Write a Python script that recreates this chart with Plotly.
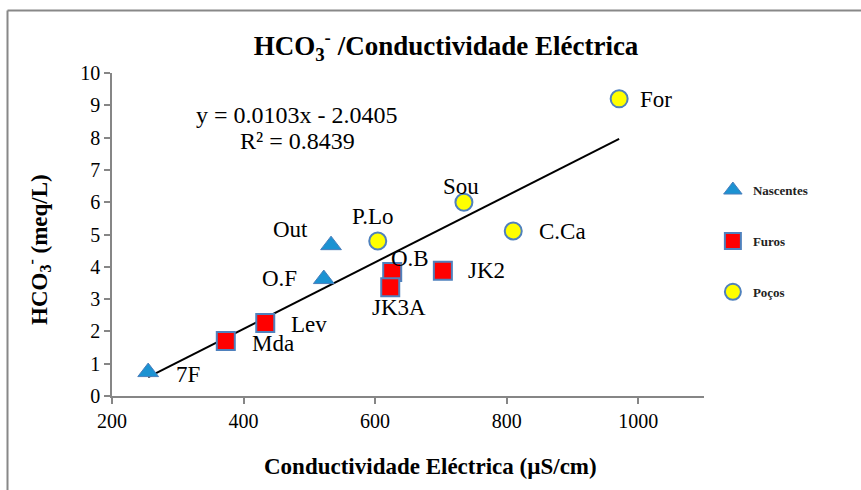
import plotly.graph_objects as go

# ---- data ----
sites = ["7F", "Mda", "Lev", "O.F", "Out", "P.Lo", "O.B", "JK3A", "JK2", "Sou", "C.Ca", "For"]
groups = ["Nascentes", "Furos", "Furos", "Nascentes", "Nascentes", "Poços",
          "Furos", "Furos", "Furos", "Poços", "Poços", "Poços"]
ce_values = [255, 373, 433, 522, 533, 604, 626, 623, 703, 735, 810, 971]
hco3_values = [0.74, 1.70, 2.26, 3.62, 4.67, 4.80, 3.84, 3.37, 3.88, 6.00, 5.11, 9.20]

trend_slope = 0.0103
trend_intercept = -2.0405
r_squared = 0.8439

x_ticks = [200, 400, 600, 800, 1000]
y_ticks = list(range(0, 11))

# ---- styles ----
FONT = "Liberation Serif"
group_styles = {
    "Nascentes": dict(symbol="triangle-up", size=18, color="#1c92d2",
                      line=dict(color="#4a7ebb", width=1)),
    "Furos": dict(symbol="square", size=18, color="#ff0000",
                  line=dict(color="#4f81bd", width=2)),
    "Poços": dict(symbol="circle", size=17, color="#ffff00",
                  line=dict(color="#4f81bd", width=2)),
}
# label offsets (pixels) relative to each marker
label_offsets = {
    "7F": (40, -2), "Mda": (47, -2), "Lev": (44, -1), "O.F": (-44, 1),
    "Out": (-41, 16), "P.Lo": (-5, 24), "O.B": (18, 13), "JK3A": (9, -20),
    "JK2": (44, 0), "Sou": (-3, 16), "C.Ca": (49, -1), "For": (37, -1),
}

fig = go.Figure()

# trend line
x0, x1 = min(ce_values), max(ce_values)
fig.add_trace(go.Scatter(
    x=[x0, x1],
    y=[trend_slope * x0 + trend_intercept, trend_slope * x1 + trend_intercept],
    mode="lines", line=dict(color="black", width=2), showlegend=False,
    hoverinfo="skip"))

for g in ["Nascentes", "Furos", "Poços"]:
    xs = [x for x, gg in zip(ce_values, groups) if gg == g]
    ys = [y for y, gg in zip(hco3_values, groups) if gg == g]
    st = group_styles[g]
    fig.add_trace(go.Scatter(
        x=xs, y=ys, mode="markers", name=f"<b>{g}</b>", legendgroup=g,
        marker=dict(symbol=st["symbol"], size=st["size"], color=st["color"],
                    line=st["line"])))

annotations = []
for s, x, y in zip(sites, ce_values, hco3_values):
    dx, dy = label_offsets[s]
    annotations.append(dict(x=x, y=y, xref="x", yref="y", text=s, showarrow=False,
                            xanchor="center", yanchor="middle",
                            xshift=dx, yshift=dy,
                            font=dict(family=FONT, size=23, color="black")))

annotations += [
    dict(x=(297 - 112) / 592, y=(396 - 115) / 323, xref="paper", yref="paper",
         xanchor="center", yanchor="middle",
         text=f"y = {trend_slope}x - {abs(trend_intercept)}", showarrow=False,
         font=dict(family=FONT, size=24, color="black")),
    dict(x=(297 - 112) / 592, y=(396 - 141) / 323, xref="paper", yref="paper",
         xanchor="center", yanchor="middle",
         text=f"R² = {r_squared}", showarrow=False,
         font=dict(family=FONT, size=24, color="black")),
    dict(x=(430 - 112) / 592, y=(396 - 466) / 323, xref="paper", yref="paper",
         xanchor="center", yanchor="middle",
         text="<b>Conductividade Eléctrica (µS/cm)</b>", showarrow=False,
         font=dict(family=FONT, size=23, color="black")),
    dict(x=(38 - 112) / 592, y=(396 - 250) / 323, xref="paper", yref="paper",
         xanchor="center", yanchor="middle", textangle=-90,
         text="<b>HCO<sub>3</sub><sup>-</sup> (meq/L)</b>", showarrow=False,
         font=dict(family=FONT, size=23, color="black")),
]

fig.update_layout(
    width=861, height=490,
    margin=dict(l=112, r=157, t=73, b=94),
    paper_bgcolor="white", plot_bgcolor="white",
    font=dict(family=FONT, color="black"),
    title=dict(text="<b>HCO<sub>3</sub><sup>-</sup> /Conductividade Eléctrica</b>",
               x=446 / 861, xanchor="center", y=1 - 46 / 490, yanchor="middle",
               font=dict(family=FONT, size=27, color="black")),
    annotations=annotations,
    showlegend=True,
    legend=dict(x=1.015, y=0.684, xanchor="left", yanchor="top",
                font=dict(family=FONT, size=13, color="#222"),
                tracegroupgap=31, traceorder="grouped",
                bgcolor="rgba(0,0,0,0)", itemsizing="trace"),
    shapes=[
        dict(type="line", xref="paper", yref="paper",
             x0=(7.5 - 112) / 592, x1=(7.5 - 112) / 592,
             y0=(396 - 10.5) / 323, y1=(396 - 500) / 323,
             line=dict(color="#888888", width=2)),
        dict(type="line", xref="paper", yref="paper",
             x0=(7.5 - 112) / 592, x1=(870 - 112) / 592,
             y0=(396 - 10.5) / 323, y1=(396 - 10.5) / 323,
             line=dict(color="#888888", width=2)),
    ],
)

fig.update_xaxes(range=[200, 1100], tickvals=x_ticks, showgrid=False, zeroline=False,
                 showline=True, linecolor="#868686", linewidth=1.5,
                 ticks="outside", tickcolor="#868686", ticklen=6, tickwidth=1.5,
                 tickfont=dict(family=FONT, size=20, color="black"))
fig.update_yaxes(range=[0, 10], tickvals=y_ticks, showgrid=False, zeroline=False,
                 showline=True, linecolor="#868686", linewidth=1.5,
                 ticks="outside", tickcolor="#868686", ticklen=6, tickwidth=1.5,
                 tickfont=dict(family=FONT, size=20, color="black"))

fig.write_html("out.html")
